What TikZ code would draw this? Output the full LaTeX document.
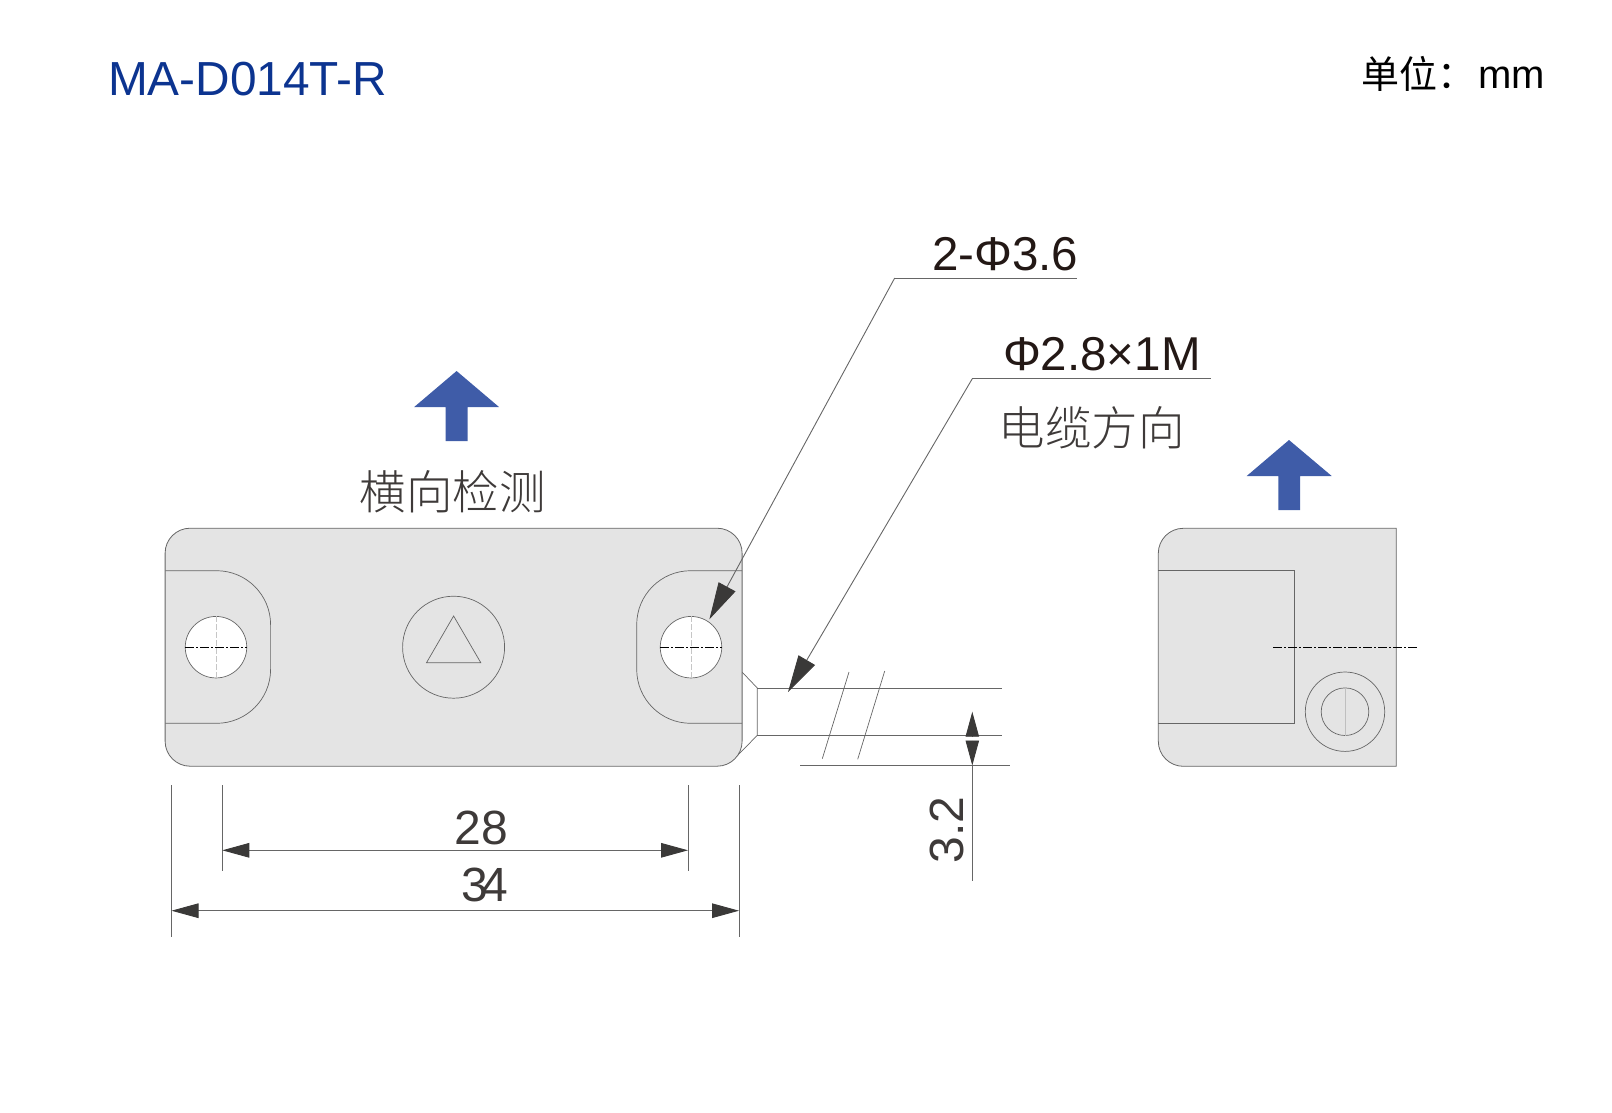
\documentclass[tikz,border=0pt]{standalone}
\usepackage{fontspec}
\setmainfont{Liberation Sans}
\newfontfamily\cjklight{Noto Sans CJK SC Light}
\newfontfamily\cjk{Noto Sans CJK SC}
\usetikzlibrary{arrows.meta}
\definecolor{partfill}{HTML}{E4E4E4}
\definecolor{partline}{HTML}{666666}
\definecolor{tipdark}{HTML}{3A3938}
\definecolor{bluearrow}{HTML}{3F5CA8}
\definecolor{titleblue}{HTML}{0C3490}
\definecolor{dimtext}{HTML}{231815}
\definecolor{greytext}{HTML}{3E3A39}
\tikzset{
  x=1pt,y=-1pt,
  part/.style={draw=partline,line width=0.8pt},
  thin part/.style={draw=partline,line width=0.7pt},
  round part/.style={circle,thin part,inner sep=0pt},
  hole/.style={round part,fill=white,minimum size=61.5pt},
  centre line/.style={draw=black,line width=0.6pt,dash pattern=on 9pt off 2pt on 2pt off 2pt},
  light line/.style={draw=gray!45,line width=0.5pt,dash pattern=on 6pt off 2pt},
  dimline/.style={draw=partline,line width=0.9pt},
  dimtips/.style={{Triangle[length=27pt,width=14.6pt,color=tipdark]}-{Triangle[length=27pt,width=14.6pt,color=tipdark]}},
  smalltip/.style={-{Triangle[length=25pt,width=13.4pt,color=tipdark]}},
  leadertip/.style={-{Triangle[length=37pt,width=19pt,color=tipdark]}},
  blue up/.style={fill=bluearrow,draw=none},
  lbl/.style={inner sep=0pt,outer sep=0pt},
  dimlabel/.style={lbl,text=dimtext,font=\fontsize{47.5}{50}\selectfont},
  numlabel/.style={lbl,text=greytext,font=\fontsize{48}{50}\selectfont},
  cjklabel/.style={lbl,text=greytext,font=\cjklight\fontsize{46.5}{50}\selectfont},
}
\begin{document}
\begin{tikzpicture}
\useasboundingbox (0,0) rectangle (1612,1112);
% --- headers
\node[lbl,anchor=base west,text=titleblue,font=\fontsize{47.8}{50}\selectfont] (title) at (108,95) {MA-D014T-R};
\node[lbl,anchor=base west,text=black,font=\cjk\fontsize{38}{40}\selectfont] (unitcjk) at (1361,88) {单位：};
\node[lbl,anchor=base east,text=black,font=\fontsize{40}{42}\selectfont] (unitmm) at (1545,88) {mm};
% --- cable (behind the body)
\coordinate (flareTop) at (742,672);
\coordinate (flareBot) at (737,756);
\coordinate (cabTL) at (757.3,688);
\coordinate (cabBL) at (757.3,735.3);
\coordinate (cabTR) at (1001.7,688);
\coordinate (cabBR) at (1001.7,735.3);
\draw[thin part] (flareTop) -- (cabTL) -- (cabBL) -- (flareBot);
\draw[thin part] (cabTL) -- (cabTR);
\draw[thin part] (cabBL) -- (cabBR);
\coordinate (brkA1) at (849,672); \coordinate (brkA2) at (822.3,758.7);
\coordinate (brkB1) at (884.7,671); \coordinate (brkB2) at (857.7,759.3);
\draw[thin part] (brkA1) -- (brkA2);
\draw[thin part] (brkB1) -- (brkB2);
% --- front view
\node[part,fill=partfill,rounded corners=25pt,minimum width=577pt,minimum height=238pt,inner sep=0pt] (body) at (453.6,647.2) {};
\draw[thin part,rounded corners=54pt] (165.3,570.7) -- (270.6,570.7) -- (270.6,723.3) -- (165.3,723.3);
\draw[thin part,rounded corners=54pt] (742,570.7) -- (636.7,570.7) -- (636.7,723.3) -- (742,723.3);
\node[hole] (holeL) at (216,647.2) {};
\node[hole] (holeR) at (691,647.2) {};
\draw[light line] (holeL.north) -- (holeL.south);
\draw[light line] (holeR.north) -- (holeR.south);
\draw[centre line] (holeL.west) -- (holeL.east);
\draw[centre line] (holeR.west) -- (holeR.east);
\node[round part,minimum size=102pt] (mark) at (453.6,647.2) {};
\coordinate (triA) at (453.6,616); \coordinate (triB) at (480.8,662.7); \coordinate (triC) at (426.5,662.7);
\draw[thin part] (triA) -- (triB) -- (triC) -- cycle;
% --- side view
\draw[part,fill=partfill] (1396.3,528.3) -- (1183.3,528.3) .. controls (1169.5,528.3) and (1158.3,539.5) .. (1158.3,553.3) -- (1158.3,741.3) .. controls (1158.3,755.1) and (1169.5,766.3) .. (1183.3,766.3) -- (1396.3,766.3) -- cycle;
\coordinate (sideA) at (1158.3,570.7); \coordinate (sideB) at (1294.3,570.7);
\coordinate (sideC) at (1294.3,723.3); \coordinate (sideD) at (1158.3,723.3);
\draw[part] (sideA) -- (sideB) -- (sideC) -- (sideD);
\node[round part,minimum size=79.4pt] (ringOut) at (1345,711.7) {};
\node[round part,minimum size=47.6pt] (ringIn) at (1345,711.7) {};
\draw[draw=gray!50,line width=0.5pt] (ringIn.north) -- (ringIn.south);
\coordinate (sideCL1) at (1273,647.3); \coordinate (sideCL2) at (1418,647.3);
\draw[centre line] (sideCL1) -- (sideCL2);
% --- blue arrows
\draw[blue up] (456.6,371) -- (499,407) -- (467.5,407) -- (467.5,441) -- (445.7,441) -- (445.7,407) -- (414.2,407) -- cycle;
\draw[blue up] (1289,440) -- (1331.7,476) -- (1300,476) -- (1300,510) -- (1278.3,510) -- (1278.3,476) -- (1246.7,476) -- cycle;
\node[cjklabel,anchor=center] (lblcross) at (452.5,492) {横向检测};
% --- leaders
\coordinate (ldA0) at (1076.7,278); \coordinate (ldA1) at (894.7,278); \coordinate (ldAtip) at (709.4,619.3);
\draw[dimline] (ldA0) -- (ldA1);
\draw[dimline,leadertip] (ldA1) -- (ldAtip);
\coordinate (ldB0) at (1210.7,378.7); \coordinate (ldB1) at (972.3,378.7); \coordinate (ldBtip) at (788,692);
\draw[dimline] (ldB0) -- (ldB1);
\draw[dimline,leadertip] (ldB1) -- (ldBtip);
\node[dimlabel,anchor=base west] (lblhole) at (932,270.7) {2-Φ3.6};
\node[dimlabel,anchor=base west] (lblcable) at (1003,370.7) {Φ2.8×1M};
\node[cjklabel,anchor=center] (lbldir) at (1091.7,428) {电缆方向};
% --- dimensions
\coordinate (e34La) at (171.5,785); \coordinate (e34Lb) at (171.5,936.7);
\coordinate (e34Ra) at (739,785); \coordinate (e34Rb) at (739,936.7);
\coordinate (e28La) at (222.3,785); \coordinate (e28Lb) at (222.3,870.7);
\coordinate (e28Ra) at (688,785); \coordinate (e28Rb) at (688,870.7);
\draw[dimline] (e34La) -- (e34Lb);
\draw[dimline] (e34Ra) -- (e34Rb);
\draw[dimline] (e28La) -- (e28Lb);
\draw[dimline] (e28Ra) -- (e28Rb);
\coordinate (d28L) at (222.3,850.3); \coordinate (d28R) at (688,850.3);
\coordinate (d34L) at (171.5,910.7); \coordinate (d34R) at (739,910.7);
\draw[dimline,dimtips] (d28L) -- (d28R);
\draw[dimline,dimtips] (d34L) -- (d34R);
\node[numlabel,anchor=base] (lbl28) at (481.5,844) {28};
\node[numlabel,anchor=base] (lbl34) at (485,901.7) {3\kern-6pt4};
% --- 3.2 dimension
\coordinate (ext32a) at (800,765.7); \coordinate (ext32b) at (1010,765.7);
\draw[dimline] (ext32a) -- (ext32b);
\coordinate (v32top) at (972.3,711.7); \coordinate (v32base) at (972.3,737);
\coordinate (v32low) at (972.3,740.5); \coordinate (v32bot) at (972.3,765.5); \coordinate (v32end) at (972.3,880.7);
\draw[dimline,smalltip] (v32base) -- (v32top);
\draw[dimline,smalltip] (v32low) -- (v32bot);
\draw[dimline] (v32bot) -- (v32end);
\node[numlabel,anchor=base,rotate=90] (lbl32) at (963.3,830) {3.2};
\end{tikzpicture}
\end{document}
